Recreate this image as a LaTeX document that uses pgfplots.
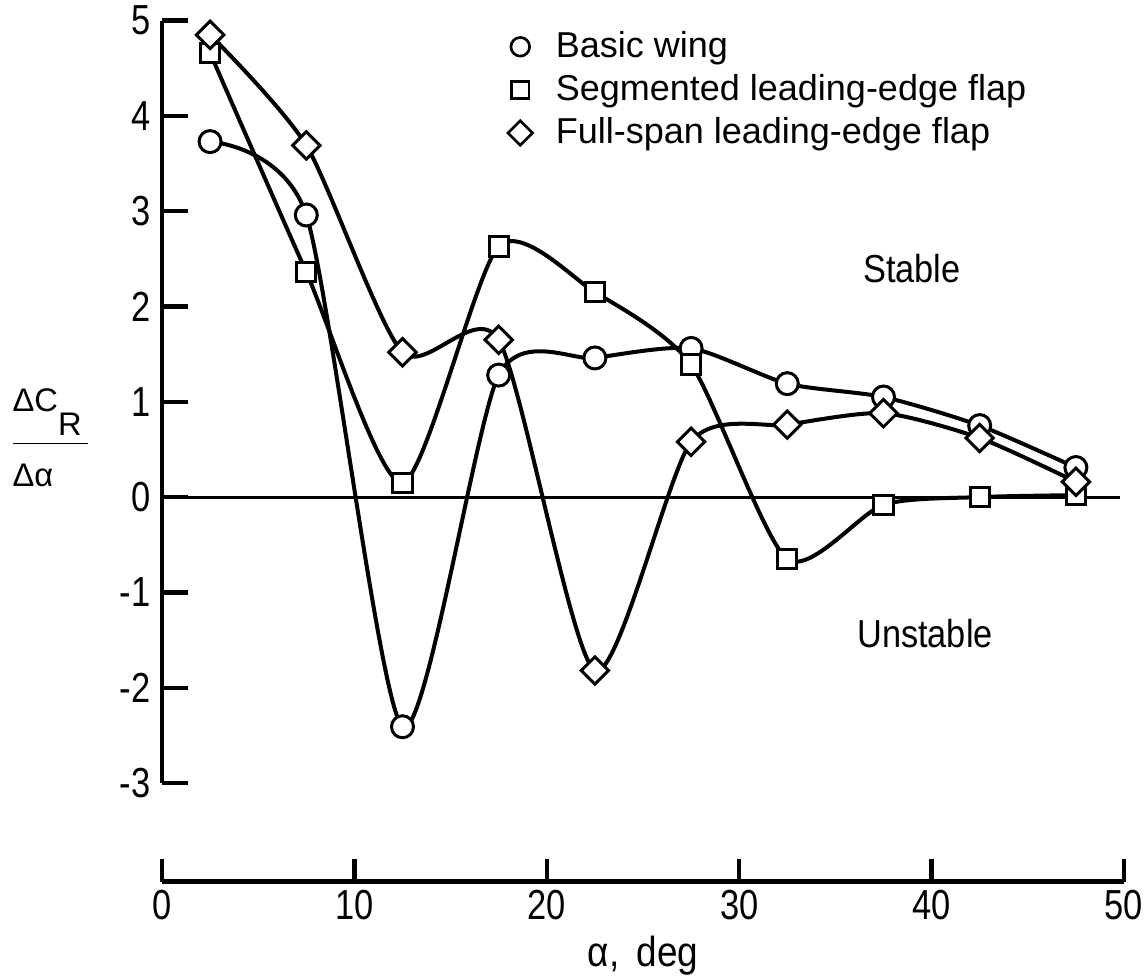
\documentclass[border=0pt]{standalone}
\usepackage{pgfplots}
\pgfplotsset{compat=1.18}
\usepackage{fontspec}
\setmainfont{Liberation Sans}[FakeStretch=0.82]
\newfontfamily\widefont{Liberation Sans}[FakeStretch=0.88]
\newfontfamily\plainfont{Liberation Sans}

\pgfplotstableread{
x y
2.5 3.73
7.5 2.96
12.5 -2.41
17.5 1.28
22.5 1.46
27.5 1.56
32.5 1.19
37.5 1.05
42.5 0.75
47.5 0.31
}\basic

\pgfplotstableread{
x y
2.5 4.66
7.5 2.36
12.5 0.15
17.5 2.63
22.5 2.15
27.5 1.39
32.5 -0.65
37.5 -0.08
42.5 0.00
47.5 0.02
}\segmented

\pgfplotstableread{
x y
2.5 4.85
7.5 3.69
12.5 1.52
17.5 1.65
22.5 -1.82
27.5 0.58
32.5 0.76
37.5 0.88
42.5 0.62
47.5 0.16
}\fullspan

\begin{document}
\begin{tikzpicture}
\begin{axis}[
  at={(0,0)}, anchor=south west,
  x=5.772pt, y=28.59pt,
  xmin=0, xmax=50, ymin=-3, ymax=5,
  axis x line=none,
  axis y line=left,
  y axis line style={-, line width=1.3pt},
  ytick={-3,-2,-1,0,1,2,3,4,5},
  yticklabels={-3,-2,-1,0,1,2,3,4,5},
  tick align=inside,
  major tick length=7.8pt,
  ytick style={line width=1.3pt, black},
  yticklabel style={font=\fontsize{12.6}{14}\selectfont},
  clip=false,
  legend style={draw=none, fill=none, at={(axis cs:17.95,4.93)}, anchor=north west,
    font=\plainfont\fontsize{10.8}{13}\selectfont, row sep=1.6pt, inner sep=0pt,
    nodes={inner sep=1pt},
    /tikz/every odd column/.append style={column sep=6pt}},
  legend cell align=left,
  legend image code/.code={\draw[#1] plot coordinates {(0.12cm,0cm)};},
]
\addplot[black, line width=0.9pt, forget plot] coordinates {(0,0) (49.8,0)};

\addplot[black, smooth, tension=0.42, line width=1.2pt, mark=*, mark size=3.3pt,
  mark options={fill=white, line width=0.9pt}, forget plot] table {\basic};
\addplot[black, smooth, tension=0.42, line width=1.2pt, mark=square*, mark size=2.9pt,
  mark options={fill=white, line width=0.9pt}, forget plot] table {\segmented};
\addplot[black, smooth, tension=0.42, line width=1.2pt, mark=square*, mark size=2.9pt,
  mark options={fill=white, line width=0.9pt, rotate=45}, forget plot] table {\fullspan};

\addlegendimage{only marks, black, mark=o, mark size=2.8pt, line width=0.8pt}
\addlegendentry{Basic wing}
\addlegendimage{only marks, black, mark=square, mark size=2.6pt, line width=0.8pt}
\addlegendentry{Segmented leading-edge flap}
\addlegendimage{only marks, black, mark=square, mark size=2.6pt, line width=0.8pt, mark options={rotate=45}}
\addlegendentry{Full-span leading-edge flap}

\node[font=\widefont\fontsize{11.7}{14}\selectfont] at (axis cs:38.98,2.40) {Stable};
\node[font=\widefont\fontsize{11.7}{14}\selectfont] at (axis cs:39.66,-1.43) {Unstable};
\node[font=\plainfont\fontsize{9.8}{11}\selectfont, inner sep=0pt, anchor=west] at (axis cs:-7.8,0.58)
  {\begin{tabular}{@{}l@{\hspace{2pt}}}ΔC\raisebox{-7pt}{R}\rule[-9.4pt]{0pt}{1pt}\\ \hline \rule{0pt}{12.6pt}Δα\end{tabular}};
\end{axis}

\begin{axis}[
  at={(0,-29.6pt)}, anchor=south west,
  x=5.772pt, y=1pt,
  xmin=0, xmax=50, ymin=0, ymax=1,
  axis x line=bottom,
  axis y line=none,
  x axis line style={-, line width=1.3pt},
  xtick={0,10,20,30,40,50},
  xticklabels={0,10,20,30,40,50},
  tick align=inside,
  major tick length=6.9pt,
  xtick style={line width=1.3pt, black},
  xticklabel style={font=\fontsize{12.6}{14}\selectfont, yshift=1pt},
  xlabel={α,\, deg},
  xlabel style={font=\widefont\fontsize{12.6}{14}\selectfont, yshift=2pt},
]
\end{axis}

\pgfresetboundingbox
\path[use as bounding box] (-48.6pt,-59.1pt) rectangle (294.9pt,234.9pt);
\end{tikzpicture}
\end{document}
